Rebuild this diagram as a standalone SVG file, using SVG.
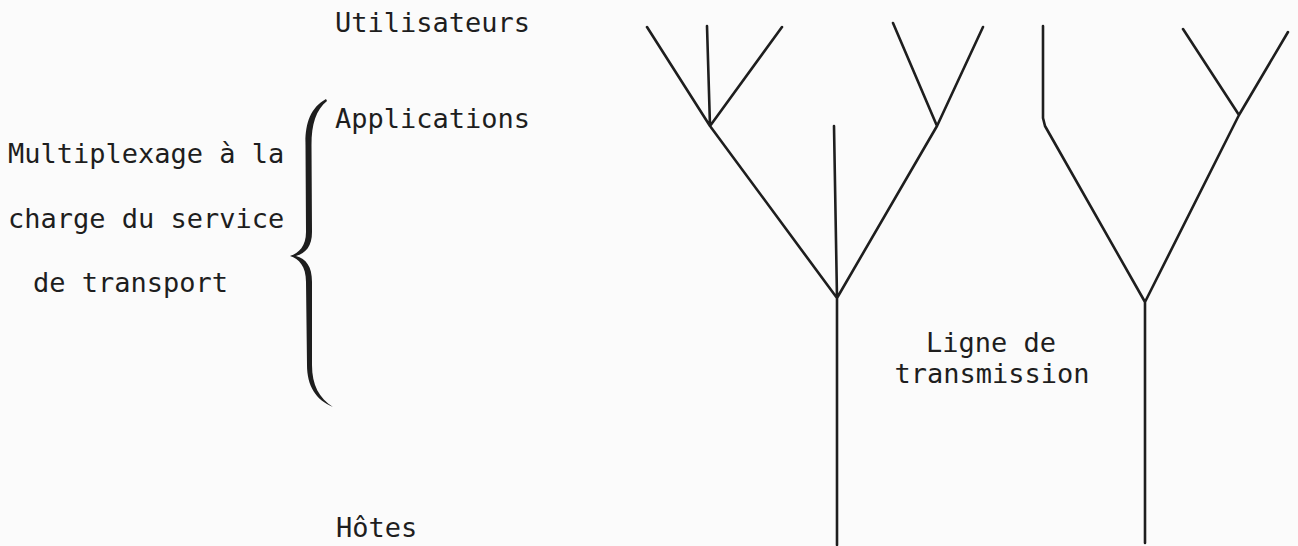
<svg xmlns="http://www.w3.org/2000/svg" width="1298" height="546" viewBox="0 0 1298 546">
<style>
.t{font-family:"DejaVu Sans Mono","Liberation Mono",monospace;font-size:27px;fill:#1e1e1e}
.ln{fill:none;stroke:#1e1e1e;stroke-width:2.6;stroke-linecap:round;stroke-linejoin:round}
</style>
<rect x="0" y="0" width="1298" height="546" fill="#fbfbfb"/>
<g id="labels">
<text id="utilisateurs" class="t" x="335" y="32">Utilisateurs</text>
<text id="applications" class="t" x="335" y="128">Applications</text>
<text id="hotes" class="t" x="336" y="537">Hôtes</text>
<text class="t" x="8" y="163">Multiplexage à la</text>
<text class="t" x="8" y="228">charge du service</text>
<text class="t" x="33" y="292">de transport</text>
<text class="t" x="991" y="352" text-anchor="middle">Ligne de</text>
<text class="t" x="992" y="383" text-anchor="middle">transmission</text>
</g>
<g id="brace">
<path fill="#1e1e1e" d="M326,99 C310,108 305,124 305.5,145 L306,232 C306,246 299,253 290,256 C299,259 306,266 306,282 L307,365 C307,386 316,400 333,407 C319,398 312,385 312,365 L312,282 C312,266 306,259 296,256 C306,253 312,246 312,232 L311.5,145 C311.5,124 316,110 327,101 Z"/>
</g>
<g id="connectors">
<g id="tree1">
<path class="ln" d="M647,27 L710,126 M707,26 L710,126 M782,27 L710,126 M710,126 L837,298 M893,23 L937,126 M983,27 L937,126 M937,126 L837,298 M834,126 L837,298 M837,298 L837,545"/>
</g>
<g id="tree2">
<path class="ln" d="M1043,26 L1043,118 L1045,126 L1145,302 M1183,29 L1239,115 M1288,32 L1239,115 M1239,115 L1145,302 M1145,302 L1145,543"/>
</g>
</g>
</svg>
